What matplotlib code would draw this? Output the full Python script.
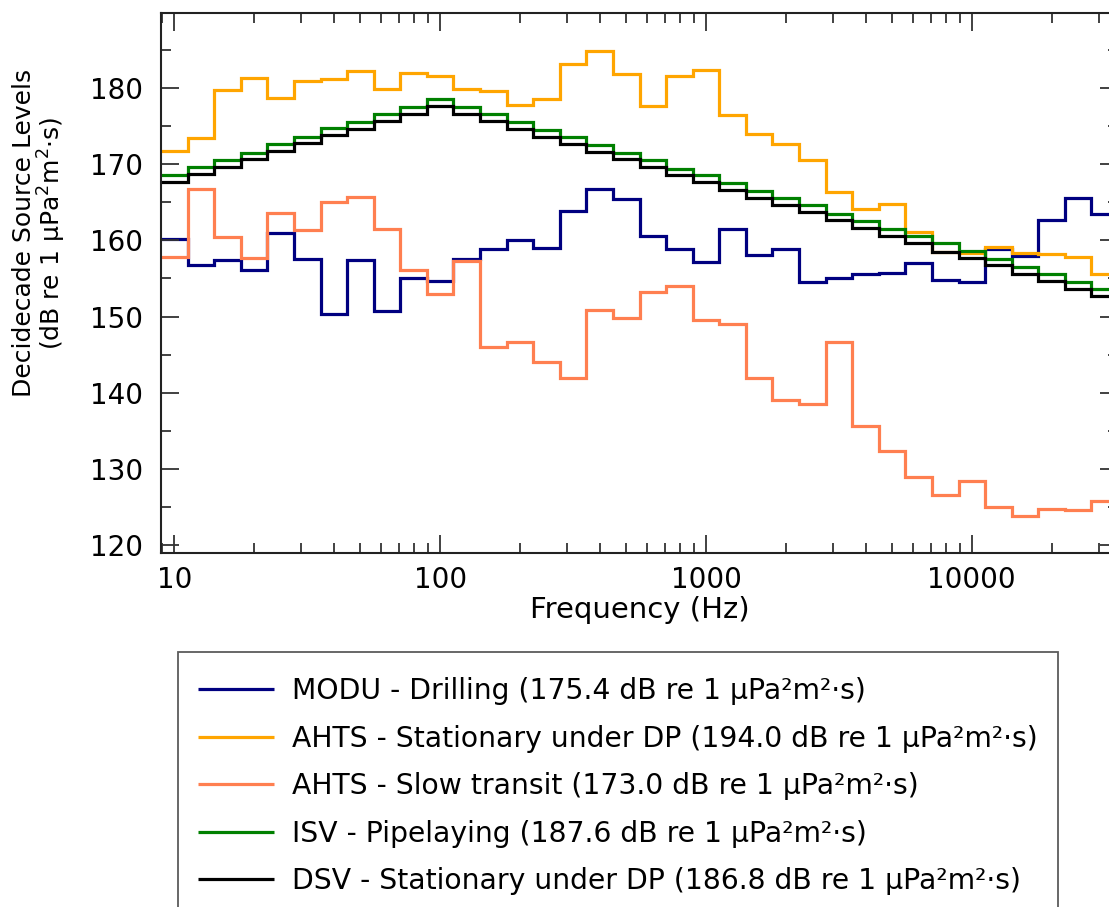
import numpy as np
import matplotlib
matplotlib.use("Agg")
import matplotlib.pyplot as plt
from matplotlib.lines import Line2D
from matplotlib.patches import StepPatch
from matplotlib.ticker import LogLocator, NullFormatter, MultipleLocator

# Decidecade band centre frequencies (Hz)
band_centres = [10, 12.5, 16, 20, 25, 31.5, 40, 50, 63, 80, 100, 125, 160, 200, 250,
                315, 400, 500, 630, 800, 1000, 1250, 1600, 2000, 2500, 3150, 4000,
                5000, 6300, 8000, 10000, 12500, 16000, 20000, 25000, 31500]

modu_drilling = [160.2, 156.7, 157.4, 156.1, 160.9, 157.5, 150.4, 157.4, 150.7, 155.1,
                 154.6, 157.5, 158.8, 160.0, 159.0, 163.9, 166.7, 165.4, 160.6, 158.8,
                 157.2, 161.5, 158.1, 158.8, 154.5, 155.0, 155.6, 155.7, 157.0, 154.8,
                 154.5, 158.9, 157.9, 162.6, 165.6, 163.4]
ahts_dp = [171.7, 173.4, 179.7, 181.3, 178.7, 180.9, 181.2, 182.2, 179.8, 181.9,
           181.6, 179.9, 179.6, 177.7, 178.5, 183.1, 184.8, 181.8, 177.6, 181.6,
           182.3, 176.4, 173.9, 172.6, 170.5, 166.3, 164.1, 164.7, 161.1, 158.5,
           158.3, 159.1, 158.3, 158.2, 157.8, 155.6]
ahts_transit = [157.8, 166.7, 160.4, 157.7, 163.6, 161.3, 165.0, 165.7, 161.5, 156.1,
                152.9, 157.3, 146.0, 146.6, 144.0, 141.9, 150.9, 149.8, 153.2, 154.0,
                149.6, 149.0, 141.9, 139.0, 138.6, 146.6, 135.6, 132.4, 128.9, 126.6,
                128.5, 125.0, 123.9, 124.8, 124.7, 125.8]
isv_pipelaying = [168.6, 169.6, 170.5, 171.5, 172.6, 173.6, 174.7, 175.5, 176.5, 177.5,
                  178.5, 177.5, 176.5, 175.5, 174.5, 173.5, 172.5, 171.5, 170.5, 169.4,
                  168.5, 167.5, 166.5, 165.5, 164.6, 163.5, 162.5, 161.5, 160.6, 159.6,
                  158.6, 157.6, 156.5, 155.6, 154.5, 153.6]
dsv_dp = [167.7, 168.7, 169.6, 170.6, 171.7, 172.7, 173.8, 174.6, 175.6, 176.6,
          177.6, 176.6, 175.6, 174.6, 173.6, 172.6, 171.6, 170.6, 169.6, 168.6,
          167.6, 166.6, 165.6, 164.6, 163.7, 162.6, 161.6, 160.6, 159.7, 158.5,
          157.7, 156.7, 155.6, 154.7, 153.6, 152.7]

labels = [
    "MODU - Drilling (175.4 dB re 1 μPa²m²·s)",
    "AHTS - Stationary under DP (194.0 dB re 1 μPa²m²·s)",
    "AHTS - Slow transit (173.0 dB re 1 μPa²m²·s)",
    "ISV - Pipelaying (187.6 dB re 1 μPa²m²·s)",
    "DSV - Stationary under DP (186.8 dB re 1 μPa²m²·s)",
]
colors = ["navy", "orange", "coral", "green", "black"]
series = [modu_drilling, ahts_dp, ahts_transit, isv_pipelaying, dsv_dp]

# band edges (decidecade, base-10)
n = len(band_centres)
edges = 10 ** (1 + (np.arange(n + 1) - 0.5) / 10)


class StepLineHandler:
    """Legend handle: plain horizontal line at text mid-height."""
    def legend_artist(self, legend, orig_handle, fontsize, handlebox):
        w = handlebox.width
        yc = 0.35 * fontsize
        line = Line2D([0, w], [yc, yc], color=orig_handle.get_edgecolor(),
                      linewidth=2.3, solid_capstyle='butt')
        handlebox.add_artist(line)
        return line


plt.rcParams['font.family'] = ['DejaVu Sans']
W, H = 1109, 907
fig = plt.figure(figsize=(W / 100, H / 100), dpi=100)
left, right, top, bottom = 161, 1118, 13, 553
ax = fig.add_axes([left / W, 1 - bottom / H, (right - left) / W, (bottom - top) / H])

for vals, col, lab in zip(series, colors, labels):
    ax.stairs(vals, edges, baseline=None, color=col, linewidth=2.3, label=lab)

ax.set_xscale('log')
ax.set_xlim(edges[0], edges[-1])
ax.set_ylim(119, 189.8)
ax.yaxis.set_major_locator(MultipleLocator(10))
ax.yaxis.set_minor_locator(MultipleLocator(5))
ax.xaxis.set_minor_locator(LogLocator(base=10, subs=np.arange(2, 10)))
ax.xaxis.set_minor_formatter(NullFormatter())
ax.set_xticks([10, 100, 1000, 10000])
ax.set_xticklabels(["10", "100", "1000", "10000"])

ax.tick_params(which='both', direction='in', top=True, right=True, labelsize=20,
               color='#333333', width=1.3)
ax.tick_params(which='major', length=13)
ax.tick_params(which='minor', length=7)
ax.tick_params(axis='y', which='major', pad=13)
ax.tick_params(axis='x', which='major', pad=9)
for sp in ax.spines.values():
    sp.set_linewidth(1.5)
    sp.set_color('#222222')

ax.set_xlabel("Frequency (Hz)", fontsize=21, labelpad=2)
ax.set_ylabel("Decidecade Source Levels\n(dB re 1 μPa$^2$m$^2$·s)", fontsize=18,
              linespacing=1.0)
ax.yaxis.set_label_coords((68 - left) / (right - left), 0.592)

handles, hl = ax.get_legend_handles_labels()
leg = fig.legend(handles, hl, loc='upper left', bbox_to_anchor=(178 / W, 1 - 652 / H),
                 bbox_transform=fig.transFigure, borderaxespad=0,
                 fontsize=20.3, frameon=True, fancybox=False, handlelength=2.7,
                 handleheight=1.6, handletextpad=0.65, labelspacing=0.40,
                 borderpad=0.7, handler_map={StepPatch: StepLineHandler()})
leg.get_frame().set_edgecolor('#333333')
leg.get_frame().set_linewidth(1.3)

fig.savefig("out.png", dpi=100)
